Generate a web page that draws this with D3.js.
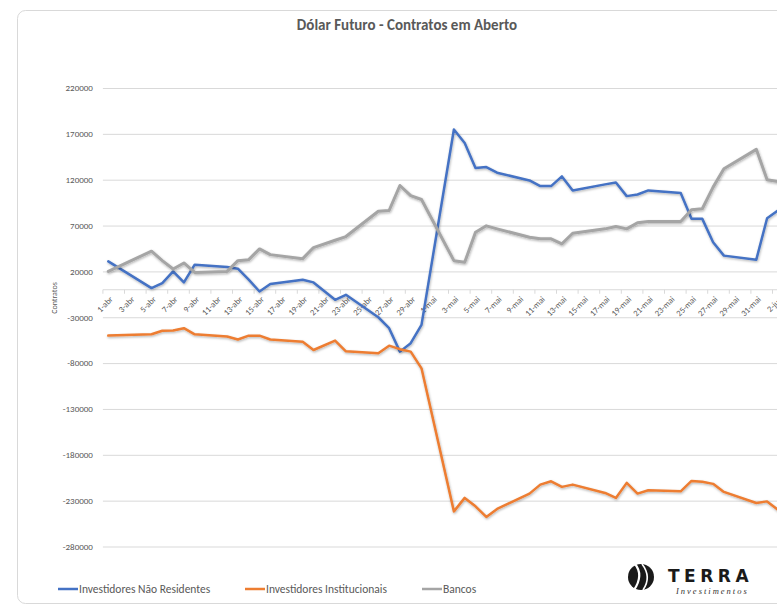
<!DOCTYPE html>
<html>
<head>
<meta charset="utf-8">
<script src="https://cdn.jsdelivr.net/npm/d3@7"></script>
<style>
  html, body { margin: 0; padding: 0; background: #fff; overflow: hidden; }
  svg { display: block; font-family: Carlito, "Liberation Sans Narrow", "DejaVu Sans Condensed", "Liberation Sans", sans-serif; }
</style>
</head>
<body>
<svg id="chart"></svg>
<script>
// trading days (2021)
const dates = [
  "2021-04-01", "2021-04-05", "2021-04-06", "2021-04-07", "2021-04-08", "2021-04-09",
  "2021-04-12", "2021-04-13", "2021-04-14", "2021-04-15", "2021-04-16",
  "2021-04-19", "2021-04-20", "2021-04-22", "2021-04-23",
  "2021-04-26", "2021-04-27", "2021-04-28", "2021-04-29", "2021-04-30",
  "2021-05-03", "2021-05-04", "2021-05-05", "2021-05-06", "2021-05-07",
  "2021-05-10", "2021-05-11", "2021-05-12", "2021-05-13", "2021-05-14",
  "2021-05-17", "2021-05-18", "2021-05-19", "2021-05-20", "2021-05-21",
  "2021-05-24", "2021-05-25", "2021-05-26", "2021-05-27", "2021-05-28",
  "2021-05-31", "2021-06-01", "2021-06-02"
];

const naoResidentes = [
  30900, 1800, 7300, 20000, 8000, 27300,
  24800, 23000, 11000, -1900, 6200,
  10900, 8000, -11000, -5500,
  -30000, -41900, -67500, -58300, -38300,
  174700, 160000, 132700, 133800, 127600,
  119200, 113000, 113000, 123600, 108300,
  114900, 117000, 102100, 103900, 108300,
  105400, 77300, 77300, 51700, 37200,
  32800, 78000, 86400
];

const institucionais = [
  -50000, -48500, -44700, -44500, -41900, -48600,
  -51000, -54300, -50100, -50100, -54300,
  -56800, -65700, -55500, -67100,
  -69300, -61000, -64800, -67500, -85700,
  -241700, -227000, -236200, -247800, -239100,
  -222300, -212500, -208900, -215000, -212500,
  -221600, -227000, -210600, -222300, -218700,
  -219800, -208500, -209500, -211700, -220500,
  -232500, -230800, -239800
];

const bancos = [
  20000, 42000, 31700, 22600, 29200, 18900,
  20000, 31700, 32800, 44500, 38300,
  33900, 46000, 54000, 58000,
  85600, 86400, 113700, 102700, 98400,
  31700, 29900, 62700, 69700, 66400,
  57200, 55500, 55500, 50000, 61600,
  66400, 68900, 66400, 73000, 74400,
  74400, 87200, 88300, 111900, 132000,
  153100, 120000, 118100
];

const series = [
  { name: "Investidores Não Residentes", values: naoResidentes, color: "#4472c4", w: 2.5 },
  { name: "Investidores Institucionais", values: institucionais, color: "#ed7d31", w: 2.5 },
  { name: "Bancos", values: bancos, color: "#a5a5a5", w: 3 }
];

const yTicks = [220000, 170000, 120000, 70000, 20000, -30000, -80000, -130000, -180000, -230000, -280000];
const meses = ["jan", "fev", "mar", "abr", "mai", "jun", "jul", "ago", "set", "out", "nov", "dez"];

const width = 777, height = 608;
const plot = { left: 102.9, top: 88, bottom: 546.5, day: 10.8 };

const parse = d3.timeParse("%Y-%m-%d");
const fmt = d3.timeFormat("%Y-%m-%d");
const first = parse(dates[0]);
const last = parse(dates[dates.length - 1]);
const allDays = d3.timeDay.range(first, d3.timeDay.offset(last, 1)).map(fmt);

const x = d3.scaleBand()
  .domain(allDays)
  .range([plot.left, plot.left + allDays.length * plot.day])
  .padding(0);
const cx = (d) => x(d) + x.bandwidth() / 2;

const y = d3.scaleLinear()
  .domain([-280000, 220000])
  .range([plot.bottom, plot.top]);

const svg = d3.select("#chart").attr("width", width).attr("height", height);

const defs = svg.append("defs");
defs.append("filter")
  .attr("id", "shadow")
  .attr("x", "-5%").attr("y", "-5%").attr("width", "110%").attr("height", "110%")
  .append("feDropShadow")
  .attr("dx", 0.6).attr("dy", 1.2)
  .attr("stdDeviation", 0.9)
  .attr("flood-color", "#000")
  .attr("flood-opacity", 0.3);

// chart frame
svg.append("rect")
  .attr("x", 17.5).attr("y", 10.5)
  .attr("width", 820).attr("height", 593)
  .attr("rx", 8)
  .attr("fill", "#fff")
  .attr("stroke", "#d9d9d9");

svg.append("text")
  .attr("x", 407).attr("y", 30)
  .attr("text-anchor", "middle")
  .attr("font-size", 15)
  .attr("font-weight", "bold")
  .attr("fill", "#595959")
  .text("Dólar Futuro - Contratos em Aberto");

// gridlines + y labels
const yAxis = svg.append("g")
  .attr("transform", "translate(" + plot.left + ",0)")
  .call(d3.axisLeft(y).tickValues(yTicks).tickSize(-(width - plot.left + 20)).tickPadding(10).tickFormat((d) => String(d)));
yAxis.select(".domain").remove();
yAxis.selectAll(".tick line").attr("stroke", "#d9d9d9");
yAxis.selectAll(".tick text")
  .attr("fill", "#595959")
  .attr("font-size", 9)
  .attr("font-family", "Carlito, 'Liberation Sans Narrow', 'Liberation Sans', sans-serif");

svg.append("text")
  .attr("transform", "translate(57," + 298 + ") rotate(-90)")
  .attr("text-anchor", "middle")
  .attr("font-size", 8)
  .attr("fill", "#595959")
  .text("Contratos");

// x axis at zero
const labelDays = allDays.filter((d, i) => i % 2 === 0);
const xAxis = svg.append("g").attr("transform", "translate(0," + y(0) + ")");
xAxis.append("line")
  .attr("x1", plot.left).attr("x2", width + 20)
  .attr("stroke", "#d9d9d9");
xAxis.selectAll(".tk")
  .data(labelDays)
  .enter()
  .append("line")
  .attr("class", "tk")
  .attr("x1", (d) => x(d)).attr("x2", (d) => x(d))
  .attr("y1", 0).attr("y2", 4)
  .attr("stroke", "#d9d9d9");
xAxis.selectAll(".lbl")
  .data(labelDays)
  .enter()
  .append("text")
  .attr("class", "lbl")
  .attr("transform", (d) => "translate(" + (cx(d) + 3) + ",8) rotate(-45)")
  .attr("text-anchor", "end")
  .attr("dy", "0.35em")
  .attr("font-size", 8.5)
  .attr("fill", "#595959")
  .text((d) => {
    const t = parse(d);
    return t.getDate() + "-" + meses[t.getMonth()];
  });

// lines
const line = d3.line()
  .x((d) => cx(d.date))
  .y((d) => y(d.value));

svg.selectAll(".serie")
  .data(series)
  .enter()
  .append("path")
  .attr("class", "serie")
  .attr("fill", "none")
  .attr("stroke", (d) => d.color)
  .attr("stroke-width", (d) => d.w)
  .attr("stroke-linejoin", "round")
  .attr("stroke-linecap", "round")
  .attr("filter", "url(#shadow)")
  .attr("d", (s) => line(dates.map((d, i) => ({ date: d, value: s.values[i] }))));

// legend
const legendX = [58, 245, 422];
const legend = svg.selectAll(".leg")
  .data(series)
  .enter()
  .append("g")
  .attr("class", "leg")
  .attr("transform", (d, i) => "translate(" + legendX[i] + ",589)");
legend.append("line")
  .attr("x1", 0).attr("x2", 20)
  .attr("stroke", (d) => d.color)
  .attr("stroke-width", 2.5);
legend.append("text")
  .attr("x", 21)
  .attr("dy", "0.35em")
  .attr("font-size", 11.5)
  .attr("fill", "#595959")
  .text((d) => d.name);

// logo
const logo = svg.append("g").attr("transform", "translate(641,577)");
logo.append("circle").attr("r", 13).attr("fill", "#1a1a1a");
logo.append("path")
  .attr("d", "M-6,-13 Q3,-2 -7,13")
  .attr("fill", "none").attr("stroke", "#fff").attr("stroke-width", 2.2);
logo.append("path")
  .attr("d", "M1,-13 Q11,0 2,13")
  .attr("fill", "none").attr("stroke", "#fff").attr("stroke-width", 1.6);
logo.append("text")
  .attr("x", 27).attr("y", 5)
  .attr("font-family", "'DejaVu Sans', sans-serif")
  .attr("font-weight", "bold")
  .attr("font-size", 17)
  .attr("letter-spacing", 4.5)
  .attr("fill", "#1a1a1a")
  .text("TERRA");
logo.append("text")
  .attr("x", 35).attr("y", 17)
  .attr("font-family", "'Liberation Serif', serif")
  .attr("font-style", "italic")
  .attr("font-size", 8.5)
  .attr("letter-spacing", 2)
  .attr("fill", "#333")
  .text("Investimentos");
</script>
</body>
</html>
